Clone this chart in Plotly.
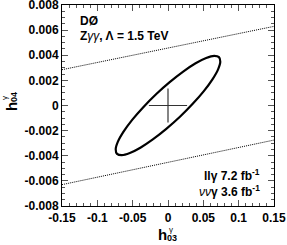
import plotly.graph_objects as go

# ---- data ----
ellipse_x = [0.0721, 0.0653, 0.0540, 0.0391, 0.0215, 0.0024, -0.0169, -0.0350,
             -0.0507, -0.0629, -0.0709, -0.0740, -0.0721, -0.0653, -0.0540, -0.0391,
             -0.0215, -0.0024, 0.0169, 0.0350, 0.0507, 0.0629, 0.0709, 0.0740, 0.0721]
ellipse_y = [0.00385, 0.00395, 0.00378, 0.00336, 0.00270, 0.00186, 0.00090, -0.00013,
             -0.00114, -0.00208, -0.00288, -0.00348, -0.00385, -0.00395, -0.00378, -0.00336,
             -0.00270, -0.00186, -0.00090, 0.00013, 0.00114, 0.00208, 0.00288, 0.00348, 0.00385]

upper_x = [-0.15, 0.15]
upper_y = [0.00285, 0.0063]
lower_x = [-0.15, 0.15]
lower_y = [-0.0063, -0.00275]

cross_hx = [-0.027, 0.027]
cross_hy = [0.0, 0.0]
cross_vx = [0.0, 0.0]
cross_vy = [-0.00135, 0.00135]

x_ticks = [-0.15, -0.1, -0.05, 0, 0.05, 0.1, 0.15]
x_ticklabels = ["-0.15", "-0.1", "-0.05", "0", "0.05", "0.1", "0.15"]
y_ticks = [-0.008, -0.006, -0.004, -0.002, 0, 0.002, 0.004, 0.006, 0.008]
y_ticklabels = ["-0.008", "-0.006", "-0.004", "-0.002", "0", "0.002", "0.004", "0.006", "0.008"]

FONT = "Liberation Sans, Arial, Helvetica, sans-serif"

fig = go.Figure()
fig.add_trace(go.Scatter(x=upper_x, y=upper_y, mode="lines", hoverinfo="skip",
                         line=dict(color="black", width=1, dash="1px,1px"), showlegend=False))
fig.add_trace(go.Scatter(x=lower_x, y=lower_y, mode="lines", hoverinfo="skip",
                         line=dict(color="black", width=1, dash="1px,1px"), showlegend=False))
fig.add_trace(go.Scatter(x=ellipse_x, y=ellipse_y, mode="lines", hoverinfo="skip",
                         line=dict(color="black", width=2.2, shape="spline"), showlegend=False))
fig.add_trace(go.Scatter(x=cross_hx, y=cross_hy, mode="lines", hoverinfo="skip",
                         line=dict(color="#333333", width=1.2), showlegend=False))
fig.add_trace(go.Scatter(x=cross_vx, y=cross_vy, mode="lines", hoverinfo="skip",
                         line=dict(color="#333333", width=1.2), showlegend=False))

axis_common = dict(showline=True, linecolor="black", linewidth=1, mirror="allticks",
                   ticks="inside", ticklen=6, tickwidth=1, tickcolor="#555555",
                   showgrid=False, zeroline=False, automargin=False,
                   ticklabeloverflow="allow",
                   tickfont=dict(family=FONT, size=12, color="black", weight="bold"))

fig.update_xaxes(range=[-0.15, 0.15], tickvals=x_ticks, ticktext=x_ticklabels,
                 ticklabelstandoff=1,
                 minor=dict(ticks="inside", ticklen=3, dtick=0.01, tickcolor="#555555", showgrid=False),
                 **axis_common)
fig.update_yaxes(range=[-0.008, 0.008], tickvals=y_ticks, ticktext=y_ticklabels,
                 minor=dict(ticks="inside", ticklen=3, dtick=0.0005, tickcolor="#555555", showgrid=False),
                 **axis_common)

W, H = 287, 245
L, R, T, B = 62, 13, 5, 39
pw, ph = W - L - R, H - T - B

anns = [
    dict(text="<b>DØ</b>", px=78, py=21, anchor="left", size=12),
    dict(text="<b>Z</b><i>γγ</i><b>, Λ = 1.5 TeV</b>", px=78, py=36, anchor="left", size=12),
    dict(text="<b>llγ 7.2 fb<sup>-1</sup></b>", px=262, py=175, anchor="right", size=12),
    dict(text="<i>νν</i><b>γ 3.6 fb<sup>-1</sup></b>", px=262, py=191, anchor="right", size=12),
]
annotations = []
for a in anns:
    annotations.append(dict(text=a["text"], xref="paper", yref="paper",
                            x=(a["px"] - L) / pw, y=1 - (a["py"] - T) / ph,
                            xanchor=a["anchor"], yanchor="middle", showarrow=False,
                            font=dict(family=FONT, size=a["size"], color="black")))


def title_parts(cx, cy, sub, rotate=False):
    if not rotate:
        parts = [dict(text="<b>h</b>", px=cx, py=cy, size=15),
                 dict(text="γ", px=cx + 9, py=cy - 6, size=8),
                 dict(text="<b>" + sub + "</b>", px=cx + 10, py=cy + 3, size=9)]
        angle = 0
    else:
        parts = [dict(text="<b>h</b>", px=cx, py=cy, size=15),
                 dict(text="γ", px=cx - 7, py=cy - 9, size=8),
                 dict(text="<b>" + sub + "</b>", px=cx + 3, py=cy - 10, size=9)]
        angle = -90
    out = []
    for p in parts:
        out.append(dict(text=p["text"], xref="paper", yref="paper",
                        x=(p["px"] - L) / pw, y=1 - (p["py"] - T) / ph,
                        xanchor="center", yanchor="middle", showarrow=False, textangle=angle,
                        font=dict(family=FONT, size=p["size"], color="black")))
    return out


annotations += title_parts(162, 235, "03")
annotations += title_parts(11, 107, "04", rotate=True)

fig.update_layout(width=W, height=H, margin=dict(l=L, r=R, t=T, b=B, pad=0, autoexpand=False),
                  paper_bgcolor="white", plot_bgcolor="white", hovermode=False,
                  annotations=annotations, showlegend=False)

fig.write_html("out.html", config={"displayModeBar": False, "staticPlot": True},
               post_script="document.body.style.margin='0';document.body.style.padding='0';document.body.style.overflow='hidden';")
